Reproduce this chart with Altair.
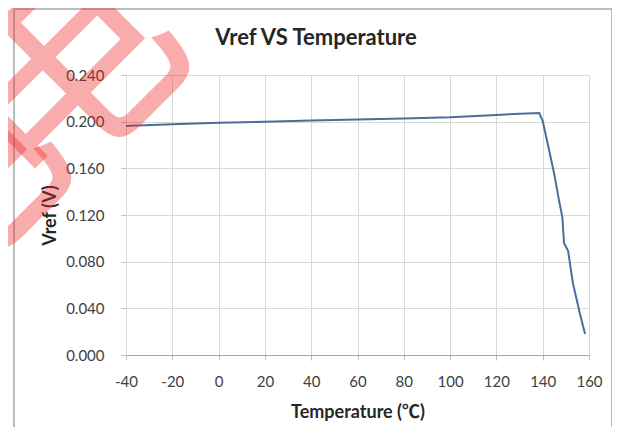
import altair as alt
import pandas as pd

temps = [-40, -38, -20, 0, 20, 40, 60, 80, 100, 120, 130, 136, 138.5, 140,
         142.5, 145, 147, 148.5, 149.2, 151, 153, 156, 158.3]
vref = [0.1962, 0.1966, 0.1978, 0.1990, 0.2000, 0.2010, 0.2018, 0.2027, 0.2037,
        0.2058, 0.2068, 0.2073, 0.2075, 0.2005, 0.178, 0.155, 0.133, 0.118,
        0.096, 0.089, 0.062, 0.036, 0.018]
x_ticks = [-40, -20, 0, 20, 40, 60, 80, 100, 120, 140, 160]
y_ticks = [0.0, 0.04, 0.08, 0.12, 0.16, 0.20, 0.24]
title_text = "Vref VS Temperature"
x_title = "Temperature (℃)"
y_title = "Vref (V)"
watermark = "电"

df = pd.DataFrame({"T": temps, "V": vref})

W, H = 463, 280
FONT = "Lato"
FONT_T = "Lato, Noto Sans CJK SC"

line = alt.Chart(df).mark_line(color="#4a6d9c", strokeWidth=2).encode(
    x=alt.X("T:Q", scale=alt.Scale(domain=[-40, 160], nice=False),
            axis=alt.Axis(values=x_ticks, title=x_title, labelExpr="'' + datum.value")),
    y=alt.Y("V:Q", scale=alt.Scale(domain=[0, 0.24], nice=False),
            axis=alt.Axis(values=y_ticks, title=y_title, format=".3f")),
)

one = pd.DataFrame({"a": [0]})

border = alt.Chart(one).mark_rect(
    fill=None, stroke="#a6a6a6", strokeWidth=1.5
).encode(x=alt.value(-112), x2=alt.value(486), y=alt.value(-66), y2=alt.value(400))

title = alt.Chart(one).mark_text(
    text=title_text, font=FONT, fontSize=22, fontWeight="bold", color="#262626",
    align="center", baseline="middle"
).encode(x=alt.value(190), y=alt.value(-37))

def wm(px, py):
    return alt.Chart(one).mark_text(
        text=watermark, font="Noto Sans CJK SC", fontSize=230, fontWeight="normal",
        color="#f02828", opacity=0.38, angle=315, align="center", baseline="middle"
    ).encode(x=alt.value(px), y=alt.value(py))

chart = alt.layer(border, line, title, wm(-58, 5), wm(-176, 116)).properties(
    width=W, height=H,
    autosize=alt.AutoSizeParams(type="none"),
    padding={"left": 118, "top": 67, "right": 23, "bottom": 72},
    background="white",
).configure_view(stroke=None).configure_axis(
    gridColor="#d9d9d9", gridWidth=1,
    labelFont=FONT, labelFontSize=15, labelColor="#404040",
    titleFont=FONT_T, titleFontSize=18, titleFontWeight="bold", titleColor="#262626",
    tickColor="#bfbfbf", tickSize=5, domainColor="#a6a6a6",
).configure_axisX(
    labelPadding=14, titlePadding=14, domain=True, labelFlush=False,
).configure_axisY(
    labelPadding=17, titlePadding=6, domain=False,
)

chart.save("out.html", embed_options={"renderer": "svg", "actions": False})
